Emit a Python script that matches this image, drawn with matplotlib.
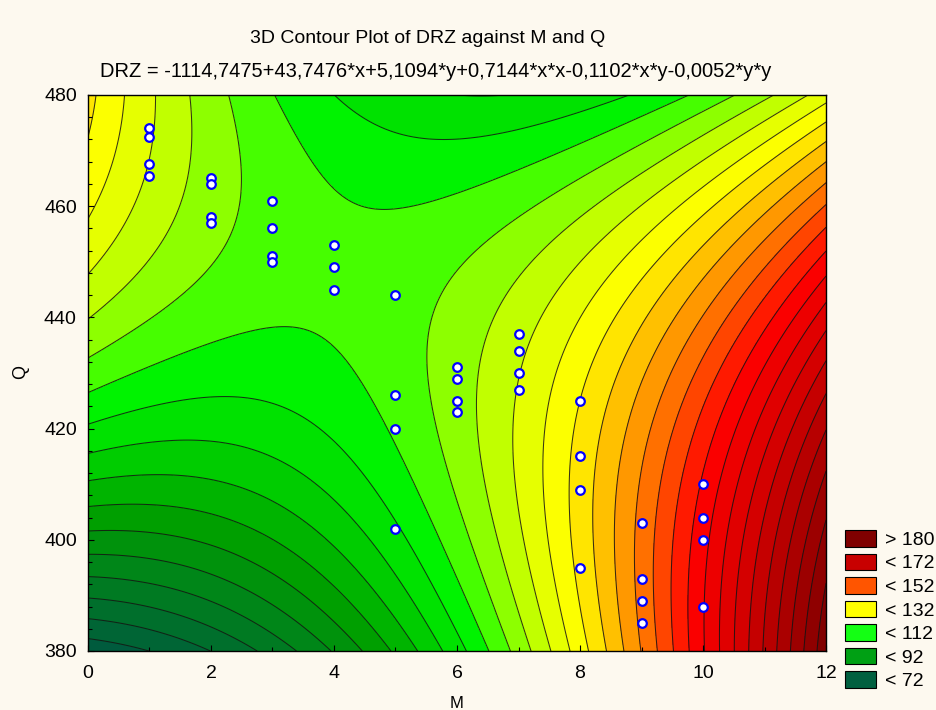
import numpy as np
import matplotlib
matplotlib.use('Agg')
from matplotlib import pyplot as plt
from matplotlib.colors import LinearSegmentedColormap, Normalize
from matplotlib.patches import Patch
from matplotlib.ticker import MultipleLocator

plt.rcParams['font.family'] = ['Liberation Sans', 'DejaVu Sans']

# fitted surface DRZ = b0 + b1*x + b2*y + b3*x*x + b4*x*y + b5*y*y (from the chart's subtitle)
coef = [-1114.7475, 43.7476, 5.1094, 0.7144, -0.1102, -0.0052]

# observed points (M, Q)
m_pts = [1, 1, 1, 1,
         2, 2, 2, 2,
         3, 3, 3, 3,
         4, 4, 4,
         5, 5, 5, 5,
         6, 6, 6, 6,
         7, 7, 7, 7,
         8, 8, 8, 8,
         9, 9, 9, 9,
         10, 10, 10, 10]
q_pts = [474, 472.5, 467.5, 465.5,
         465, 464, 458, 457,
         461, 456, 451, 450,
         453, 449, 445,
         444, 426, 420, 402,
         431, 429, 425, 423,
         437, 434, 430, 427,
         425, 415, 409, 395,
         403, 393, 389, 385,
         410, 404, 400, 388]

legend_labels = ['> 180', '< 172', '< 152', '< 132', '< 112', '< 92', '< 72']
legend_colors = ['#800000', '#c80000', '#ff5500', '#ffff00', '#14ff14', '#00a014', '#006040']

# surface on a grid
m = np.linspace(0, 12, 300)
q = np.linspace(380, 480, 300)
M, Q = np.meshgrid(m, q)
Z = (coef[0] + coef[1] * M + coef[2] * Q + coef[3] * M * M
     + coef[4] * M * Q + coef[5] * Q * Q)

levels = np.arange(70.5, 212, 4)

# colour ramp picked off the reference bands
vmin, vmax = 68, 212
nodes = [(68, '#005a3e'), (76, '#005a3e'), (84, '#006e2d'), (92, '#008519'), (100, '#009e00'),
         (108, '#00c800'), (113, '#00e400'), (117, '#00f500'), (121, '#50ff00'),
         (125, '#96ff00'), (129, '#c8ff00'), (133, '#ebff00'), (137, '#ffff00'),
         (144, '#ffc800'), (152, '#ff7800'), (163, '#ff0000'), (180, '#c80000'),
         (201, '#800000'), (212, '#800000')]
cmap = LinearSegmentedColormap.from_list(
    'drz', [((v - vmin) / (vmax - vmin), c) for v, c in nodes])

fig = plt.figure(figsize=(9.36, 7.1), dpi=100, facecolor='#fdf9ef')
ax = fig.add_axes([0.094, 0.0831, 0.7885, 0.7831])

ax.contourf(M, Q, Z, levels=levels, cmap=cmap, norm=Normalize(vmin, vmax))
ax.contour(M, Q, Z, levels=levels, colors='#141414', linewidths=0.75, alpha=0.85)
ax.plot(m_pts, q_pts, 'o', markersize=6.2, markerfacecolor='white',
        markeredgecolor='#0000ff', markeredgewidth=1.6)

ax.set_xlim(0, 12)
ax.set_ylim(380, 480)
ax.xaxis.set_major_locator(MultipleLocator(2))
ax.xaxis.set_minor_locator(MultipleLocator(1))
ax.yaxis.set_major_locator(MultipleLocator(20))
ax.yaxis.set_minor_locator(MultipleLocator(4))
ax.tick_params(which='both', direction='in', labelsize=14, length=4, width=0.8)
ax.tick_params(which='minor', length=3)
ax.tick_params(axis='x', pad=10)
ax.tick_params(axis='y', pad=8)
for s in ax.spines.values():
    s.set_linewidth(1.0)

fig.text(0.457, 1 - 43 / 710, '3D Contour Plot of DRZ against M and Q',
         ha='center', va='baseline', fontsize=14)
fig.text(0.465, 1 - 77 / 710, 'DRZ = -1114,7475+43,7476*x+5,1094*y+0,7144*x*x-0,1102*x*y-0,0052*y*y',
         ha='center', va='baseline', fontsize=14.5)
fig.text(0.022, 0.476, 'Q', rotation=90, ha='center', va='center', fontsize=13)
fig.text(0.488, 1 - 696 / 710, 'M', ha='center', va='top', fontsize=12)

handles = [Patch(facecolor=c, edgecolor='black', linewidth=0.8) for c in legend_colors]
fig.legend(handles, legend_labels, loc='upper left', bbox_to_anchor=(845 / 936, 1 - 530 / 710),
           frameon=False, fontsize=14, borderpad=0, borderaxespad=0, handlelength=1.6,
           handleheight=0.93, handletextpad=0.46, labelspacing=0.235)

fig.savefig('out.png', dpi=100, facecolor=fig.get_facecolor())
